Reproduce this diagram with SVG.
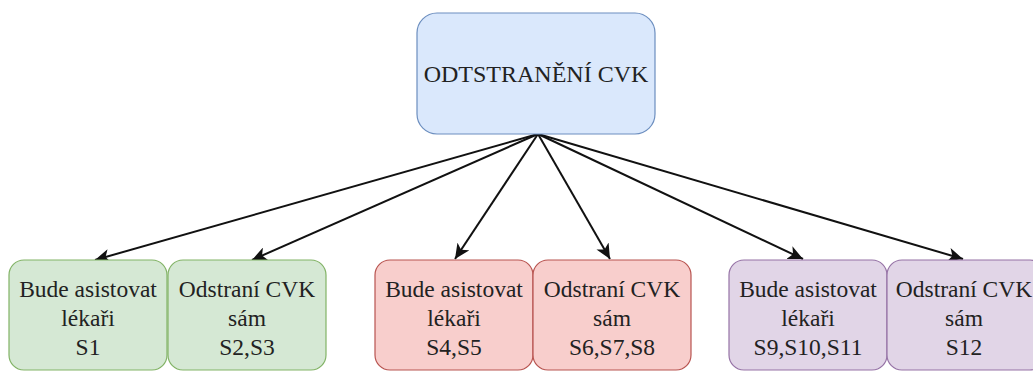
<svg xmlns="http://www.w3.org/2000/svg" width="1033" height="371" viewBox="0 0 1033 371">
<style>
text{font-family:"Liberation Serif","Times New Roman",serif;font-size:23.5px;fill:#222;text-anchor:middle}
.title{font-size:24px}
.blue{fill:#dae8fc;stroke:#6c8ebf;stroke-width:1.2}
.green{fill:#d5e8d4;stroke:#82b366;stroke-width:1.2}
.red{fill:#f8cecc;stroke:#b85450;stroke-width:1.2}
.purple{fill:#e1d5e7;stroke:#9673a6;stroke-width:1.2}
.edge{stroke:#111;stroke-width:2;fill:none;marker-end:url(#arr)}
</style>
<defs>
<marker id="arr" markerUnits="userSpaceOnUse" markerWidth="16" markerHeight="14" viewBox="0 0 16 14" refX="15" refY="7" orient="auto">
<path d="M0,0 L15,7 L0,14 L4,7 Z" fill="#111"/>
</marker>
</defs>
<g id="connectors">
<line class="edge" x1="538" y1="134" x2="95" y2="260"/>
<line class="edge" x1="538" y1="134" x2="252" y2="260"/>
<line class="edge" x1="538" y1="134" x2="455" y2="259"/>
<line class="edge" x1="538" y1="134" x2="610" y2="259"/>
<line class="edge" x1="538" y1="134" x2="803" y2="259"/>
<line class="edge" x1="538" y1="134" x2="963" y2="259"/>
</g>
<g id="root">
<rect class="blue" x="417" y="13" width="238" height="121" rx="20"/>
<text class="title" x="536" y="82">ODTSTRANĚNÍ CVK</text>
</g>
<g id="g1">
<rect class="green" x="9" y="260" width="158" height="110" rx="15"/>
<text x="88" y="297">Bude asistovat</text><text x="88" y="326">lékaři</text><text x="88" y="355">S1</text>
</g>
<g id="g2">
<rect class="green" x="168" y="260" width="158" height="110" rx="15"/>
<text x="247" y="297">Odstraní CVK</text><text x="247" y="326">sám</text><text x="247" y="355">S2,S3</text>
</g>
<g id="r1">
<rect class="red" x="375" y="260" width="158" height="110" rx="15"/>
<text x="454" y="297">Bude asistovat</text><text x="454" y="326">lékaři</text><text x="454" y="355">S4,S5</text>
</g>
<g id="r2">
<rect class="red" x="533" y="260" width="158" height="110" rx="15"/>
<text x="612" y="297">Odstraní CVK</text><text x="612" y="326">sám</text><text x="612" y="355">S6,S7,S8</text>
</g>
<g id="p1">
<rect class="purple" x="729" y="260" width="158" height="110" rx="15"/>
<text x="808" y="297">Bude asistovat</text><text x="808" y="326">lékaři</text><text x="808" y="355">S9,S10,S11</text>
</g>
<g id="p2">
<rect class="purple" x="887" y="260" width="158" height="110" rx="15"/>
<text x="964" y="297">Odstraní CVK</text><text x="964" y="326">sám</text><text x="964" y="355">S12</text>
</g>
</svg>
